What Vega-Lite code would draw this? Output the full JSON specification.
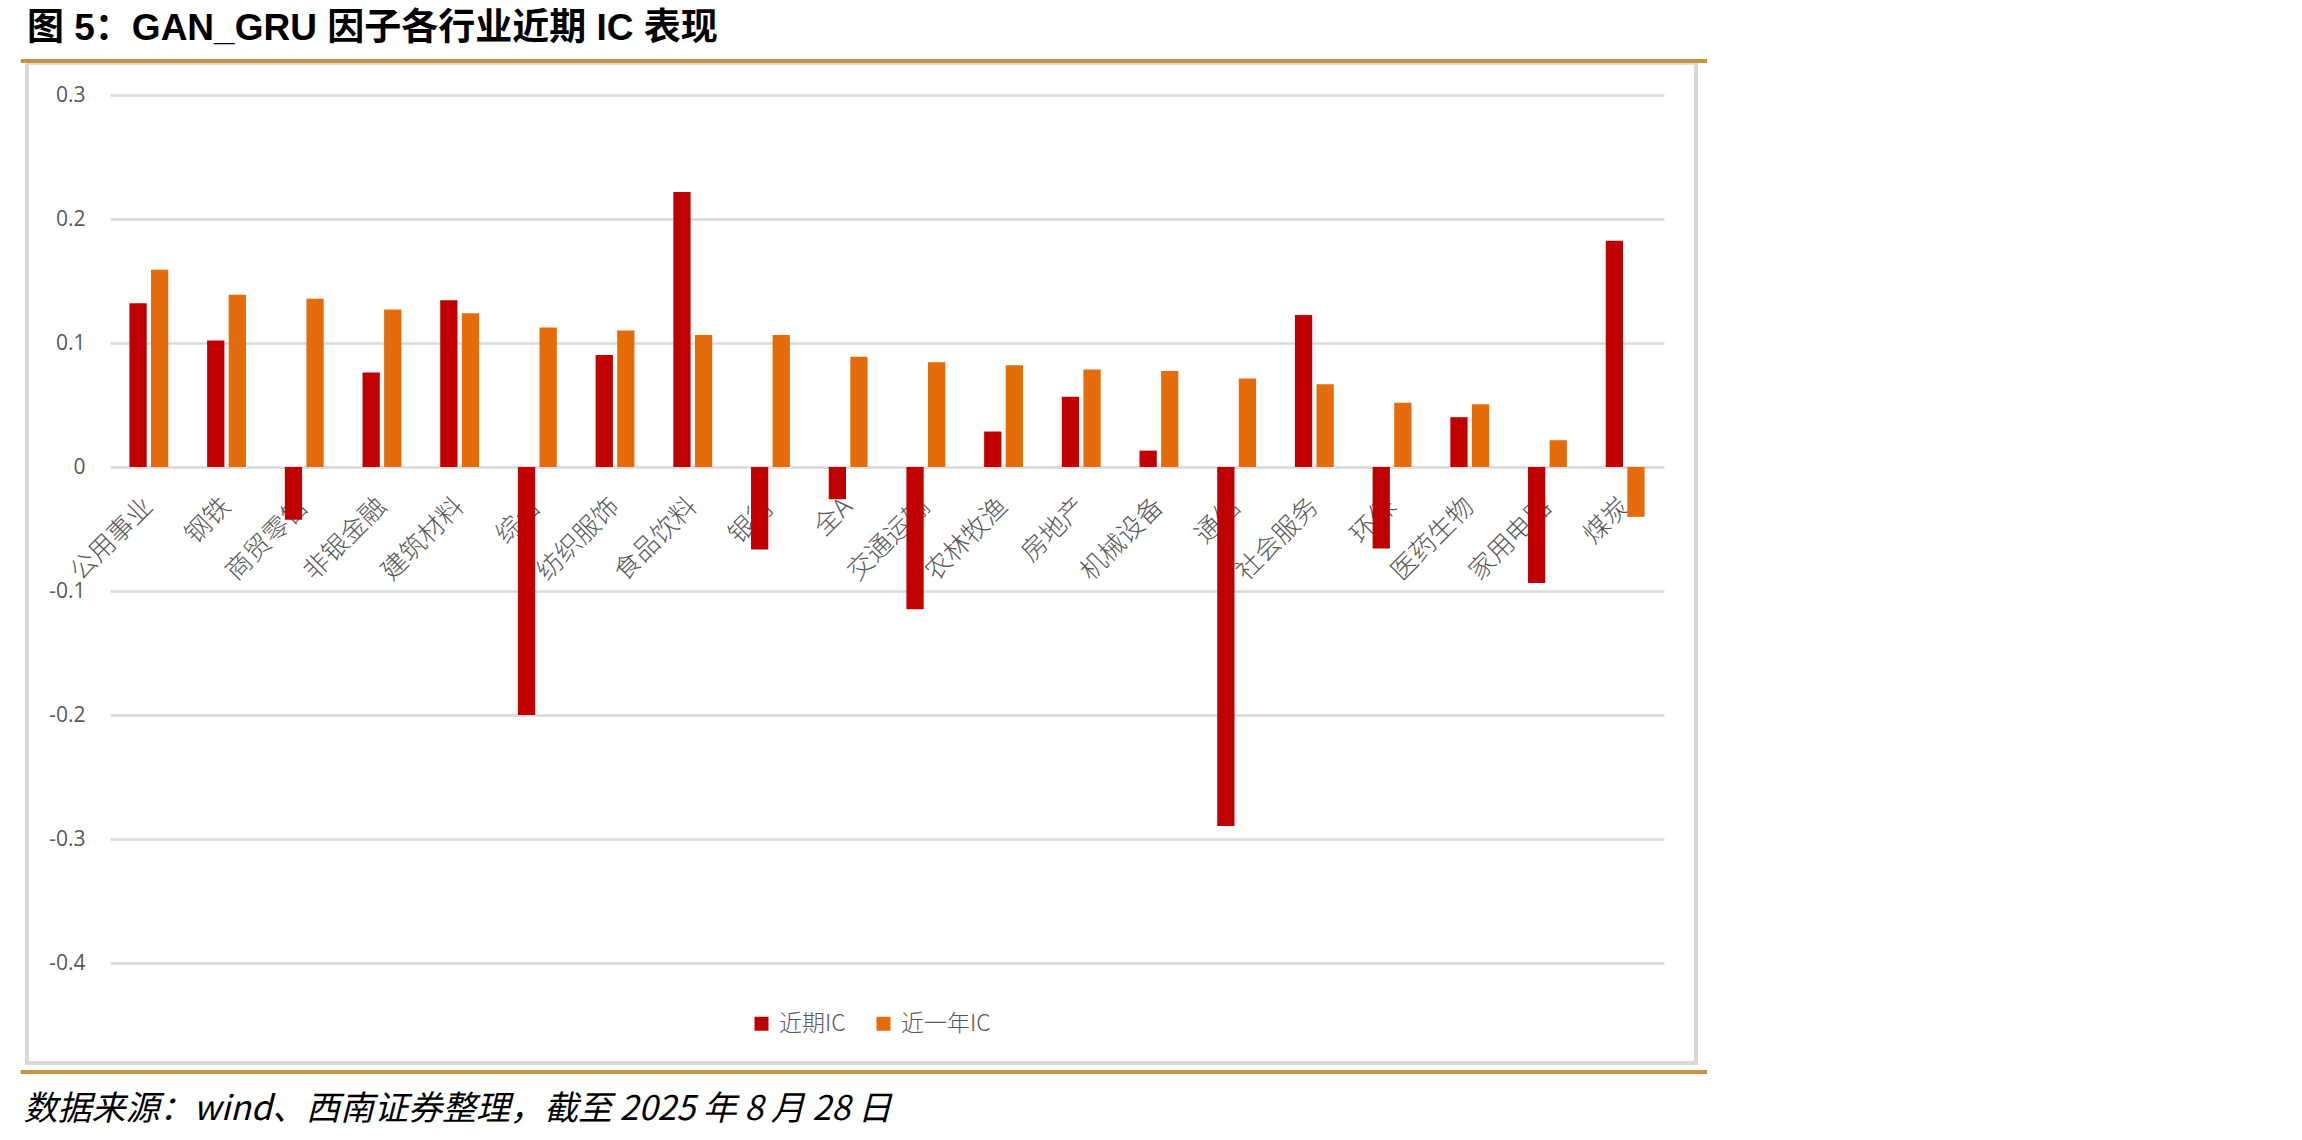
{
  "$schema": "https://vega.github.io/schema/vega-lite/v6.json",
  "autosize": {"type": "none"},
  "width": 1554,
  "height": 868,
  "padding": {"left": 110, "top": 95, "right": 638, "bottom": 177},
  "background": "white",
  "title": {
    "text": "图 5：GAN_GRU 因子各行业近期 IC 表现",
    "anchor": "start",
    "frame": "group",
    "orient": "top",
    "dx": -83,
    "offset": 12,
    "font": "Liberation Sans, Noto Sans CJK SC",
    "fontSize": 37,
    "fontWeight": "bold",
    "color": "#000000"
  },
  "datasets": {
    "ic": [
      {"industry": "公用事业", "series": "近期IC", "value": 0.132},
      {"industry": "公用事业", "series": "近一年IC", "value": 0.159},
      {"industry": "钢铁", "series": "近期IC", "value": 0.102},
      {"industry": "钢铁", "series": "近一年IC", "value": 0.139},
      {"industry": "商贸零售", "series": "近期IC", "value": -0.0426},
      {"industry": "商贸零售", "series": "近一年IC", "value": 0.1356},
      {"industry": "非银金融", "series": "近期IC", "value": 0.0763},
      {"industry": "非银金融", "series": "近一年IC", "value": 0.127},
      {"industry": "建筑材料", "series": "近期IC", "value": 0.1345},
      {"industry": "建筑材料", "series": "近一年IC", "value": 0.124},
      {"industry": "综合", "series": "近期IC", "value": -0.2},
      {"industry": "综合", "series": "近一年IC", "value": 0.1124},
      {"industry": "纺织服饰", "series": "近期IC", "value": 0.0903},
      {"industry": "纺织服饰", "series": "近一年IC", "value": 0.110},
      {"industry": "食品饮料", "series": "近期IC", "value": 0.2218},
      {"industry": "食品饮料", "series": "近一年IC", "value": 0.1065},
      {"industry": "银行", "series": "近期IC", "value": -0.0666},
      {"industry": "银行", "series": "近一年IC", "value": 0.1065},
      {"industry": "全A", "series": "近期IC", "value": -0.026},
      {"industry": "全A", "series": "近一年IC", "value": 0.089},
      {"industry": "交通运输", "series": "近期IC", "value": -0.1147},
      {"industry": "交通运输", "series": "近一年IC", "value": 0.0844},
      {"industry": "农林牧渔", "series": "近期IC", "value": 0.0286},
      {"industry": "农林牧渔", "series": "近一年IC", "value": 0.082},
      {"industry": "房地产", "series": "近期IC", "value": 0.0566},
      {"industry": "房地产", "series": "近一年IC", "value": 0.0787},
      {"industry": "机械设备", "series": "近期IC", "value": 0.0132},
      {"industry": "机械设备", "series": "近一年IC", "value": 0.0774},
      {"industry": "通信", "series": "近期IC", "value": -0.2896},
      {"industry": "通信", "series": "近一年IC", "value": 0.0714},
      {"industry": "社会服务", "series": "近期IC", "value": 0.1226},
      {"industry": "社会服务", "series": "近一年IC", "value": 0.0668},
      {"industry": "环保", "series": "近期IC", "value": -0.0658},
      {"industry": "环保", "series": "近一年IC", "value": 0.0518},
      {"industry": "医药生物", "series": "近期IC", "value": 0.0402},
      {"industry": "医药生物", "series": "近一年IC", "value": 0.0507},
      {"industry": "家用电器", "series": "近期IC", "value": -0.0935},
      {"industry": "家用电器", "series": "近一年IC", "value": 0.0216},
      {"industry": "煤炭", "series": "近期IC", "value": 0.1825},
      {"industry": "煤炭", "series": "近一年IC", "value": -0.0402}
    ]
  },
  "data": {"name": "ic"},
  "layer": [
    {
      "mark": {"type": "bar"},
      "encoding": {
        "x": {
          "field": "industry",
          "type": "nominal",
          "sort": null,
          "scale": {
            "domain": ["公用事业", "钢铁", "商贸零售", "非银金融", "建筑材料", "综合", "纺织服饰", "食品饮料", "银行", "全A", "交通运输", "农林牧渔", "房地产", "机械设备", "通信", "社会服务", "环保", "医药生物", "家用电器", "煤炭"],
            "paddingInner": 0.5,
            "paddingOuter": 0.25
          },
          "axis": {
            "offset": -496,
            "domain": false,
            "ticks": false,
            "labelAngle": -45,
            "labelAlign": "right",
            "labelBaseline": "middle",
            "labelPadding": 35,
            "labelFont": "Noto Sans CJK SC",
            "labelFontSize": 26,
            "labelFontWeight": 300,
            "labelColor": "#595959",
            "title": "数据来源：wind、西南证券整理，截至 2025 年 8 月 28 日",
            "titleX": -87,
            "titleY": 642,
            "titleAlign": "left",
            "titleBaseline": "middle",
            "titleFont": "Noto Sans CJK SC",
            "titleFontSize": 34,
            "titleFontStyle": "italic",
            "titleFontWeight": "normal",
            "titleColor": "#000000"
          }
        },
        "xOffset": {
          "field": "series",
          "type": "nominal",
          "sort": ["近期IC", "近一年IC"],
          "scale": {"paddingInner": 0.2, "paddingOuter": 0}
        },
        "y": {
          "field": "value",
          "type": "quantitative",
          "scale": {"domain": [-0.4, 0.3], "nice": false, "zero": false},
          "axis": {
            "values": [-0.4, -0.3, -0.2, -0.1, 0, 0.1, 0.2, 0.3],
            "labelExpr": "datum.value == 0 ? '0' : (datum.value < 0 ? '-' + format(-datum.value, '.1f') : format(datum.value, '.1f'))",
            "domain": false,
            "ticks": false,
            "grid": true,
            "gridColor": "#d9d9d9",
            "gridWidth": 2.5,
            "labelPadding": 25,
            "labelFont": "Open Sans",
            "labelFontSize": 21,
            "labelColor": "#595959",
            "title": null
          }
        },
        "color": {
          "field": "series",
          "type": "nominal",
          "scale": {"domain": ["近期IC", "近一年IC"], "range": ["#c00000", "#e46c0a"]},
          "legend": {
            "orient": "none",
            "legendX": 640,
            "legendY": 917,
            "direction": "horizontal",
            "title": null,
            "symbolType": "square",
            "symbolSize": 196,
            "symbolStrokeWidth": 0,
            "labelFont": "Noto Sans CJK SC",
            "labelFontSize": 23,
            "labelFontWeight": 300,
            "labelColor": "#595959",
            "labelOffset": 6,
            "columnPadding": 26,
            "padding": 0
          }
        }
      }
    },
    {
      "mark": {"type": "rect", "fillOpacity": 0, "fill": "white", "stroke": "#d9d9d9", "strokeWidth": 3},
      "encoding": {
        "x": {"datum": "公用事业", "bandPosition": -2.637},
        "x2": {"datum": "煤炭", "bandPosition": 2.324},
        "y": {"datum": 0.326},
        "y2": {"datum": -0.4806}
      }
    },
    {
      "mark": {"type": "rule", "color": "#c8943f", "strokeWidth": 3},
      "encoding": {
        "x": {"datum": "公用事业", "bandPosition": -2.791},
        "x2": {"datum": "煤炭", "bandPosition": 2.607},
        "y": {"datum": 0.3274}
      }
    },
    {
      "mark": {"type": "rule", "color": "#c8943f", "strokeWidth": 3},
      "encoding": {
        "x": {"datum": "公用事业", "bandPosition": -2.791},
        "x2": {"datum": "煤炭", "bandPosition": 2.607},
        "y": {"datum": -0.4879}
      }
    }
  ],
  "config": {"view": {"stroke": null}}
}
